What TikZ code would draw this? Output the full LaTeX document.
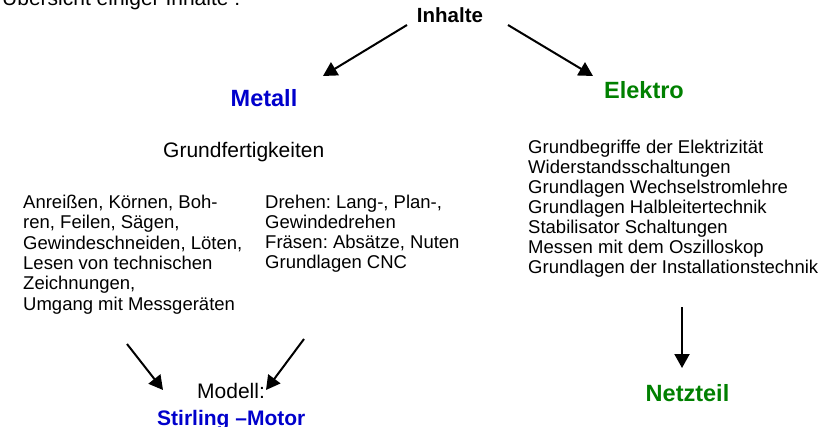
\documentclass[tikz,border=0pt]{standalone}
\usepackage{fontspec}
\setmainfont{Liberation Sans}
\usetikzlibrary{arrows.meta}
\definecolor{mblue}{RGB}{0,0,204}
\definecolor{egreen}{RGB}{0,128,0}
\frenchspacing
\begin{document}
\begin{tikzpicture}[x=1pt,y=-1pt,
  txt/.style={inner sep=0pt, anchor=base west, align=left, font=\fontsize{18.5}{20.3}\selectfont},
  big/.style={inner sep=0pt, anchor=base west, font=\fontsize{21}{24}\selectfont},
  head/.style={inner sep=0pt, anchor=base, font=\fontsize{23.5}{26}\selectfont\bfseries},
  arr/.style={line width=2pt, -{Triangle[length=14pt,width=15pt]}}]
\useasboundingbox (0,0) rectangle (834,427);
\node[big] (title) at (2,6) {Übersicht einiger Inhalte :};
\node[head, font=\fontsize{20.5}{24}\selectfont\bfseries] (inhalte) at (450,23) {Inhalte};
\node[head, text=mblue] (metall) at (264,106.5) {Metall};
\node[head, text=egreen] (elektro) at (644,98.3) {Elektro};
\node[big] (grund) at (163,158) {Grundfertigkeiten};
% base anchor of a multi-line node = baseline of its last line
\node[txt] (mlist1) at (23,310) {Anreißen, Körnen, Boh-\\ren, Feilen, Sägen,\\Gewindeschneiden, Löten,\\Lesen von technischen\\Zeichnungen,\\Umgang mit Messgeräten};
\node[txt] (mlist2) at (265,269) {Drehen: Lang-, Plan-,\\Gewindedrehen\\Fräsen: Absätze, Nuten\\Grundlagen CNC};
\node[txt, font=\fontsize{18.5}{19.9}\selectfont] (elist) at (528,273) {Grundbegriffe der Elektrizität\\Widerstandsschaltungen\\Grundlagen Wechselstromlehre\\Grundlagen Halbleitertechnik\\Stabilisator Schaltungen\\Messen mit dem Oszilloskop\\Grundlagen der Installationstechnik};
\node[big] (modell) at (197,398) {Modell:};
\node[big, font=\fontsize{21}{24}\selectfont\bfseries, text=mblue] (stirling) at (157,425) {Stirling –Motor};
\node[head, text=egreen] (netzteil) at (687.5,401.7) {Netzteil};
\coordinate (a1s) at (407,25);
\coordinate (a1e) at (323,76);
\coordinate (a2s) at (508,25);
\coordinate (a2e) at (593,76);
\coordinate (a3s) at (127,344);
\coordinate (a3e) at (163,390);
\coordinate (a4s) at (304,339);
\coordinate (a4e) at (266,390);
\coordinate (a5s) at (682,307);
\coordinate (a5e) at (682,368);
\draw[arr] (a1s) -- (a1e);
\draw[arr] (a2s) -- (a2e);
\draw[arr] (a3s) -- (a3e);
\draw[arr] (a4s) -- (a4e);
\draw[arr] (a5s) -- (a5e);
\end{tikzpicture}
\end{document}
